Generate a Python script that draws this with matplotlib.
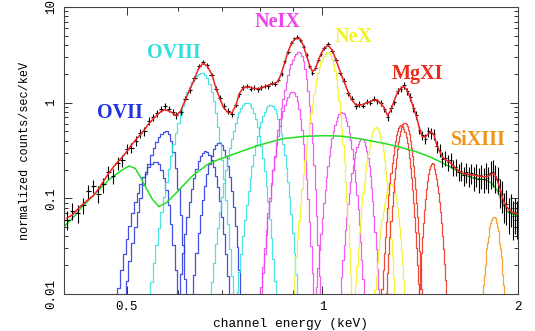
import numpy as np
import matplotlib
matplotlib.use("Agg")
import matplotlib.pyplot as plt
from matplotlib.ticker import FixedLocator, NullFormatter

# observed spectrum (keV, counts/sec/keV, 1-sigma)
data_e = [0.404, 0.412, 0.420, 0.428, 0.436, 0.444, 0.452, 0.460, 0.468, 0.476,
          0.484, 0.492, 0.500, 0.508, 0.516, 0.524, 0.532, 0.540, 0.548, 0.556,
          0.564, 0.572, 0.580, 0.588, 0.596,
          0.605, 0.615, 0.625, 0.635, 0.645, 0.655, 0.665, 0.675, 0.685, 0.695,
          0.705, 0.715, 0.725, 0.735, 0.745, 0.755, 0.765, 0.775, 0.785, 0.795,
          0.805, 0.815, 0.825, 0.835, 0.845, 0.855, 0.865, 0.875, 0.885, 0.895,
          0.905, 0.915, 0.925, 0.935, 0.945, 0.955, 0.965, 0.975, 0.985, 0.995,
          1.005, 1.020, 1.035, 1.050, 1.065, 1.080, 1.095, 1.110, 1.125, 1.140,
          1.155, 1.170, 1.185, 1.200, 1.215, 1.230, 1.245, 1.260, 1.275, 1.290,
          1.305, 1.320, 1.335, 1.350, 1.365, 1.380, 1.395, 1.410, 1.425, 1.440,
          1.455, 1.470, 1.485, 1.500, 1.515, 1.530, 1.545, 1.560, 1.575, 1.590,
          1.605, 1.620, 1.635, 1.650, 1.665, 1.680, 1.695, 1.710, 1.725, 1.740,
          1.755, 1.770, 1.785, 1.800, 1.815, 1.830, 1.845, 1.860, 1.875, 1.890,
          1.905, 1.920, 1.935, 1.950, 1.965, 1.980, 1.995]
data_rate = [0.060, 0.074, 0.070, 0.085, 0.118, 0.135, 0.112, 0.140, 0.190, 0.172,
             0.235, 0.250, 0.330, 0.335, 0.400, 0.480, 0.500, 0.640, 0.700, 0.780,
             0.860, 0.920, 0.860, 0.800, 0.740,
             0.80, 1.10, 1.35, 1.80, 2.40, 2.65, 2.45, 1.95, 1.40, 1.12,
             0.92, 0.82, 0.76, 0.95, 1.22, 1.45, 1.50, 1.40, 1.44, 1.38,
             1.45, 1.50, 1.48, 1.60, 1.58, 1.72, 2.00, 2.70, 3.35, 4.20,
             4.70, 4.90, 4.55, 3.80, 3.15, 2.40, 2.05, 2.30, 2.80, 3.20,
             3.70, 4.10, 3.50, 2.80, 2.05, 1.70, 1.25, 1.10, 0.92, 0.97,
             0.93, 1.02, 1.00, 1.10, 1.03, 1.00, 0.85, 0.70, 0.87, 1.02,
             1.32, 1.40, 1.52, 1.32, 1.15, 0.88, 0.74, 0.52, 0.46, 0.42,
             0.50, 0.48, 0.47, 0.35, 0.32, 0.26, 0.265, 0.24, 0.25, 0.21,
             0.215, 0.19, 0.195, 0.175, 0.19, 0.17, 0.185, 0.165, 0.18, 0.16,
             0.175, 0.16, 0.18, 0.165, 0.185, 0.19, 0.17, 0.16, 0.12, 0.11,
             0.085, 0.088, 0.072, 0.080, 0.065, 0.072, 0.066]
data_err = [0.013, 0.015, 0.015, 0.017, 0.020, 0.022, 0.022, 0.025, 0.030, 0.030,
            0.035, 0.035, 0.040, 0.040, 0.045, 0.050, 0.050, 0.060, 0.060, 0.065,
            0.070, 0.070, 0.070, 0.065, 0.060,
            0.06, 0.07, 0.08, 0.10, 0.12, 0.13, 0.12, 0.10, 0.08, 0.07,
            0.06, 0.06, 0.06, 0.06, 0.07, 0.08, 0.08, 0.08, 0.08, 0.08,
            0.08, 0.08, 0.08, 0.08, 0.08, 0.09, 0.10, 0.13, 0.16, 0.19,
            0.21, 0.22, 0.21, 0.18, 0.15, 0.12, 0.11, 0.12, 0.14, 0.15,
            0.17, 0.18, 0.16, 0.13, 0.10, 0.09, 0.07, 0.07, 0.06, 0.06,
            0.06, 0.06, 0.06, 0.07, 0.07, 0.07, 0.06, 0.06, 0.07, 0.08,
            0.10, 0.11, 0.12, 0.11, 0.10, 0.08, 0.07, 0.05, 0.05, 0.05,
            0.06, 0.06, 0.06, 0.05, 0.05, 0.045, 0.045, 0.045, 0.045, 0.04,
            0.045, 0.04, 0.045, 0.04, 0.045, 0.04, 0.045, 0.045, 0.05, 0.045,
            0.05, 0.045, 0.055, 0.05, 0.06, 0.06, 0.055, 0.05, 0.04, 0.04,
            0.03, 0.035, 0.03, 0.03, 0.028, 0.03, 0.028]

# best-fit total model at the data energies
model_rate = [0.062, 0.067, 0.077, 0.087, 0.097, 0.107, 0.125, 0.150, 0.180, 0.210,
              0.240, 0.270, 0.310, 0.360, 0.410, 0.460, 0.520, 0.600, 0.670, 0.740,
              0.810, 0.840, 0.820, 0.780, 0.730,
              0.82, 1.07, 1.38, 1.75, 2.30, 2.58, 2.40, 2.00, 1.45, 1.10,
              0.88, 0.79, 0.78, 0.92, 1.25, 1.42, 1.46, 1.44, 1.41, 1.40,
              1.42, 1.47, 1.52, 1.56, 1.60, 1.68, 2.05, 2.65, 3.40, 4.10,
              4.55, 4.75, 4.60, 3.90, 3.10, 2.48, 2.12, 2.25, 2.75, 3.25,
              3.65, 4.00, 3.55, 2.75, 2.10, 1.65, 1.30, 1.07, 0.95, 0.94,
              0.96, 0.99, 1.03, 1.06, 1.06, 0.98, 0.88, 0.73, 0.84, 1.06,
              1.28, 1.42, 1.47, 1.35, 1.12, 0.90, 0.72, 0.54, 0.44, 0.44,
              0.47, 0.495, 0.46, 0.36, 0.31, 0.27, 0.255, 0.245, 0.235, 0.22,
              0.205, 0.195, 0.186, 0.182, 0.180, 0.178, 0.176, 0.175, 0.173, 0.171,
              0.170, 0.168, 0.168, 0.171, 0.177, 0.182, 0.175, 0.152, 0.128, 0.105,
              0.090, 0.082, 0.077, 0.073, 0.071, 0.070, 0.069]

# continuum component
cont_e = [0.400, 0.408, 0.416, 0.424, 0.442, 0.469, 0.490, 0.504, 0.515, 0.525,
          0.534, 0.547, 0.560, 0.575, 0.594, 0.631, 0.669, 0.693, 0.770, 0.800,
          0.868, 0.940, 1.011, 1.070, 1.140, 1.243, 1.310, 1.395, 1.470, 1.550,
          1.610, 1.644, 1.700, 1.750, 1.785, 1.820, 1.860, 1.891, 1.930, 1.970,
          2.000]
cont_rate = [0.0505, 0.058, 0.066, 0.078, 0.104, 0.156, 0.195, 0.218, 0.205, 0.165,
             0.132, 0.098, 0.082, 0.090, 0.112, 0.172, 0.232, 0.255, 0.330, 0.360,
             0.420, 0.445, 0.452, 0.446, 0.420, 0.376, 0.346, 0.307, 0.268, 0.225,
             0.195, 0.178, 0.165, 0.160, 0.155, 0.145, 0.120, 0.090, 0.072, 0.068,
             0.066]

# emission line components: centre (keV), peak, low/high side widths (keV)
line_e = [0.554, 0.575, 0.661, 0.693,
          0.653, 0.766, 0.833,
          0.900, 0.921, 1.070, 1.150,
          1.020, 1.210, 1.275,
          1.322, 1.338, 1.474,
          1.835]
line_peak = [0.24, 0.50, 0.31, 0.38,
             2.05, 1.00, 0.95,
             1.30, 3.40, 0.80, 0.42,
             3.40, 0.55, 0.14,
             0.585, 0.62, 0.232,
             0.064]
line_sig_lo = [0.028, 0.028, 0.023, 0.023,
               0.034, 0.031, 0.031,
               0.031, 0.034, 0.031, 0.031,
               0.035, 0.031, 0.031,
               0.031, 0.029, 0.026,
               0.036]
line_sig_hi = [0.018, 0.015, 0.022, 0.021,
               0.023, 0.027, 0.027,
               0.022, 0.021, 0.030, 0.026,
               0.026, 0.028, 0.028,
               0.030, 0.029, 0.030,
               0.036]
line_ion = ["OVII"] * 4 + ["OVIII"] * 3 + ["NeIX"] * 4 + ["NeX"] * 3 + ["MgXI"] * 3 + ["SiXIII"]

ion_color = {"OVII": "#2233dd", "OVIII": "#33dddd", "NeIX": "#ee44ee",
             "NeX": "#f2f222", "MgXI": "#ee2a1a", "SiXIII": "#f09418"}
ion_label_pos = {"OVII": (0.4886, 0.78), "OVIII": (0.590, 3.3), "NeIX": (0.853, 6.9),
                 "NeX": (1.117, 4.8), "MgXI": (1.402, 1.97), "SiXIII": (1.74, 0.41)}

chan_e = np.arange(0.400, 2.0026, 0.005)

fig = plt.figure(figsize=(5.35, 3.31), dpi=100)
ax = fig.add_axes([0.1196, 0.1118, 0.8486, 0.8671])
ax.set_xscale("log")
ax.set_yscale("log")

for c, pk, slo, shi, ion in zip(line_e, line_peak, line_sig_lo, line_sig_hi, line_ion):
    sig = np.where(chan_e < c, slo, shi)
    prof = pk * np.exp(-0.5 * ((chan_e - c) / sig) ** 2)
    keep = prof > 0.004
    ax.plot(chan_e[keep], prof[keep], drawstyle="steps-mid", color=ion_color[ion],
            lw=0.9, alpha=0.85)

ax.plot(cont_e, cont_rate, color="#22dd22", lw=1.1)

e = np.array(data_e)
halfw = np.gradient(e) / 2
ax.errorbar(e, data_rate, yerr=data_err, xerr=halfw, fmt="none", ecolor="black",
            elinewidth=0.8, capsize=0)
ax.plot(e, model_rate, color="#ee2222", lw=1.1)

label_font = {"family": "Liberation Serif", "weight": "bold", "size": 14.5}
for ion, (x, y) in ion_label_pos.items():
    ax.text(x, y, ion, color=ion_color[ion], ha="center", va="center", fontdict=label_font)

ax.set_xlim(0.4, 2.0)
ax.set_ylim(0.01, 10)

ax.xaxis.set_major_locator(FixedLocator([0.5, 1, 2]))
ax.xaxis.set_minor_locator(FixedLocator([0.4, 0.6, 0.7, 0.8, 0.9]))
ax.xaxis.set_minor_formatter(NullFormatter())
ax.set_xticklabels(["0.5", "1", "2"])
ax.yaxis.set_major_locator(FixedLocator([0.01, 0.1, 1, 10]))
ax.yaxis.set_minor_locator(FixedLocator([k * 10.0 ** d for d in (-2, -1, 0) for k in range(2, 10)]))
ax.yaxis.set_minor_formatter(NullFormatter())
ax.set_yticklabels(["0.01", "0.1", "1", "10"], rotation=90, va="center")

tick_font = "Liberation Mono"
ax.tick_params(which="both", direction="in", top=True, right=True, colors="#333333",
               labelcolor="black", labelsize=9, width=0.7)
ax.tick_params(which="major", length=6)
ax.tick_params(which="minor", length=3)
for lab in ax.get_xticklabels() + ax.get_yticklabels():
    lab.set_family(tick_font)
ax.tick_params(axis="x", pad=5)
ax.tick_params(axis="y", pad=5)
for sp in ax.spines.values():
    sp.set_color("#444444")
    sp.set_linewidth(0.8)

ax.set_xlabel("channel energy (keV)", family=tick_font, fontsize=9.3, labelpad=4)
ax.set_ylabel("normalized counts/sec/keV", family=tick_font, fontsize=8.6, labelpad=10)

fig.savefig("out.png", dpi=100)
